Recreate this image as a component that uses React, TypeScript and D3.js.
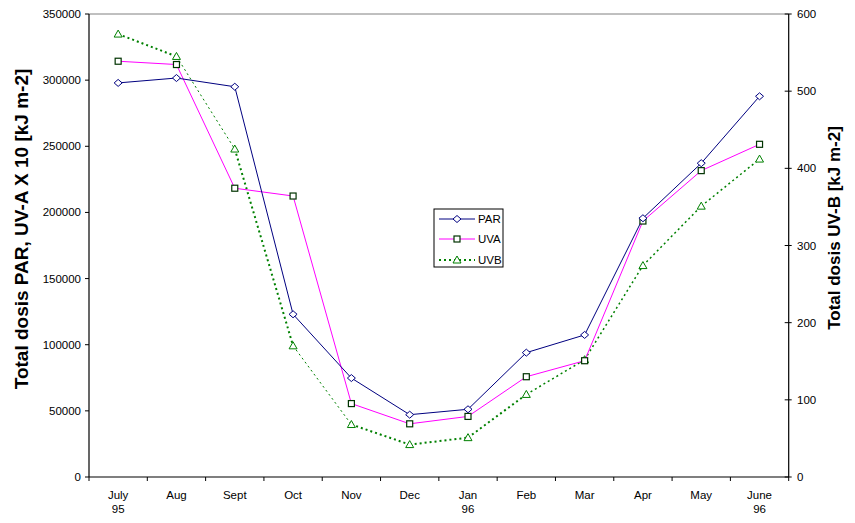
import React from "react";
import * as d3 from "d3";

const months = ["July", "Aug", "Sept", "Oct", "Nov", "Dec", "Jan", "Feb", "Mar", "Apr", "May", "June"];
const yearLabels = ["95", "", "", "", "", "", "96", "", "", "", "", "96"];
const parValues = [297900, 301600, 295000, 123000, 74800, 47100, 51200, 94000, 107400, 195600, 237200, 287800];
const uvaValues = [314300, 311800, 218300, 212400, 55500, 40200, 45800, 75800, 87900, 193500, 231600, 251500];
const uvbValues = [574, 545, 425, 170, 68, 42, 51, 107, 152, 274, 351, 412];
const leftTicks = [0, 50000, 100000, 150000, 200000, 250000, 300000, 350000];
const rightTicks = [0, 100, 200, 300, 400, 500, 600];
const seriesNames = ["PAR", "UVA", "UVB"];

const W = 855, H = 523;
const L = 89, R = 788.7, T = 14, B = 477;
const FONT = "'Liberation Sans', Arial, sans-serif";

const uvbSegWidths = [2, 1, 2, 1, 2, 2, 2, 1.5, 1.5, 1.5, 1.5];

function Diamond({ x, y }: { x: number; y: number }) {
  return <path d={`M${x - 4},${y}L${x},${y - 3.5}L${x + 4},${y}L${x},${y + 3.5}Z`} fill="white" stroke="#000080" strokeWidth={1} />;
}
function Square({ x, y }: { x: number; y: number }) {
  return <rect x={x - 3} y={y - 3} width={6} height={6} fill="white" stroke="#003300" strokeWidth={1.2} />;
}
function Tri({ x, y }: { x: number; y: number }) {
  return <path d={`M${x},${y - 4}L${x + 4},${y + 3}L${x - 4},${y + 3}Z`} fill="white" stroke="#008000" strokeWidth={1} />;
}

export default function App() {
  const x = d3.scaleBand<string>().domain(months).range([L, R]);
  const cx = (m: string) => (x(m) as number) + x.bandwidth() / 2;
  const yL = d3.scaleLinear().domain([0, 350000]).range([B, T]);
  const yR = d3.scaleLinear().domain([0, 600]).range([B, T]);

  const lineL = d3.line<number>().x((_, i) => cx(months[i])).y((d) => yL(d));
  const uvbPts = uvbValues.map((v, i) => [cx(months[i]), yR(v)] as [number, number]);

  const boundaries = d3.range(months.length + 1).map((i) => L + i * x.bandwidth());

  return (
    <svg width={W} height={H} style={{ position: "absolute", left: 0, top: 0, background: "white" }} fontFamily={FONT}>
      <rect x={0} y={0} width={W} height={H} fill="white" />
      {/* top border */}
      <line x1={L} x2={R} y1={T} y2={T} stroke="#808080" strokeWidth={1} />
      {/* axes */}
      <line x1={L} x2={L} y1={T} y2={B} stroke="black" strokeWidth={1.2} />
      <line x1={R} x2={R} y1={T} y2={B} stroke="black" strokeWidth={1.2} />
      <line x1={L} x2={R} y1={B} y2={B} stroke="black" strokeWidth={1.2} />
      {leftTicks.map((t) => (
        <g key={"l" + t}>
          <line x1={L - 4} x2={L} y1={yL(t)} y2={yL(t)} stroke="black" />
          <text x={81} y={yL(t)} dy="0.35em" textAnchor="end" fontSize={11.5}>{t}</text>
        </g>
      ))}
      {rightTicks.map((t) => (
        <g key={"r" + t}>
          <line x1={R - 4} x2={R + 3} y1={yR(t)} y2={yR(t)} stroke="black" />
          <text x={797} y={yR(t)} dy="0.35em" textAnchor="start" fontSize={11.5}>{t}</text>
        </g>
      ))}
      {boundaries.map((bx, i) => (
        <line key={"b" + i} x1={bx} x2={bx} y1={B} y2={B + 4} stroke="black" />
      ))}
      {months.map((m, i) => (
        <g key={"m" + m}>
          <text x={cx(m)} y={499} textAnchor="middle" fontSize={11.5}>{m}</text>
          {yearLabels[i] && <text x={cx(m)} y={513} textAnchor="middle" fontSize={11.5}>{yearLabels[i]}</text>}
        </g>
      ))}
      {/* axis titles */}
      <text transform={`translate(28,229) rotate(-90)`} textAnchor="middle" fontSize={19} fontWeight="bold">Total dosis PAR, UV-A X 10 [kJ m-2]</text>
      <text transform={`translate(840,228) rotate(-90)`} textAnchor="middle" fontSize={17} fontWeight="bold">Total dosis UV-B [kJ m-2]</text>

      {/* UVB */}
      {uvbPts.slice(1).map((p, i) => (
        <line key={"u" + i} x1={uvbPts[i][0]} y1={uvbPts[i][1]} x2={p[0]} y2={p[1]} stroke="#008000" strokeWidth={uvbSegWidths[i]} strokeDasharray="2 3" />
      ))}
      {/* UVA */}
      <path d={lineL(uvaValues) || ""} fill="none" stroke="#FF00FF" strokeWidth={1} />
      {/* PAR */}
      <path d={lineL(parValues) || ""} fill="none" stroke="#000080" strokeWidth={1} />

      {uvbPts.map((p, i) => <Tri key={"t" + i} x={p[0]} y={p[1]} />)}
      {uvaValues.map((v, i) => <Square key={"s" + i} x={cx(months[i])} y={yL(v)} />)}
      {parValues.map((v, i) => <Diamond key={"d" + i} x={cx(months[i])} y={yL(v)} />)}

      {/* legend */}
      <rect x={434} y={209} width={69} height={58} fill="white" stroke="black" strokeWidth={1} />
      {seriesNames.map((n, i) => {
        const ly = [219, 239, 260][i];
        const color = ["#000080", "#FF00FF", "#008000"][i];
        return (
          <g key={"lg" + n}>
            <line x1={439} x2={475} y1={ly} y2={ly} stroke={color} strokeWidth={i === 2 ? 2 : 1} strokeDasharray={i === 2 ? "2 3" : undefined} />
            {i === 0 && <Diamond x={457} y={ly} />}
            {i === 1 && <Square x={457} y={ly} />}
            {i === 2 && <Tri x={457} y={ly} />}
            <text x={478} y={ly} dy="0.35em" fontSize={11.5}>{n}</text>
          </g>
        );
      })}
    </svg>
  );
}
